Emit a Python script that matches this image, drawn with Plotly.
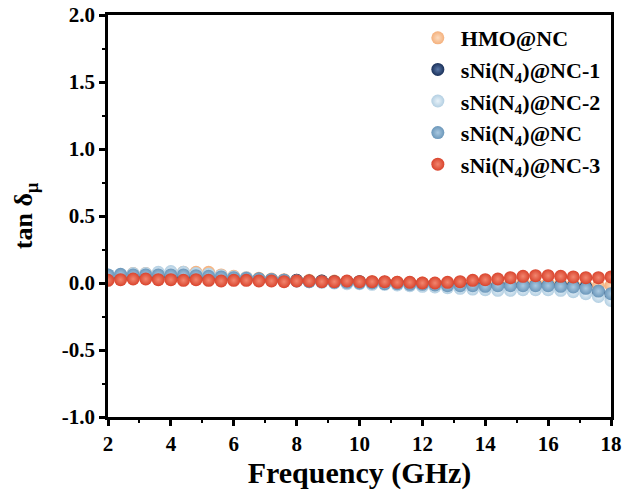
import plotly.graph_objects as go

# Frequency sweep (GHz)
freq = [2.0, 2.4, 2.8, 3.2, 3.6, 4.0, 4.4, 4.8, 5.2, 5.6,
        6.0, 6.4, 6.8, 7.2, 7.6, 8.0, 8.4, 8.8, 9.2, 9.6,
        10.0, 10.4, 10.8, 11.2, 11.6, 12.0, 12.4, 12.8, 13.2, 13.6,
        14.0, 14.4, 14.8, 15.2, 15.6, 16.0, 16.4, 16.8, 17.2, 17.6, 18.0]

# Magnetic loss tangent for each sample
hmo_nc = [0.05, 0.06, 0.07, 0.07, 0.07, 0.075, 0.08, 0.08, 0.08, 0.06,
          0.05, 0.04, 0.035, 0.03, 0.025, 0.02, 0.02, 0.015, 0.015, 0.01,
          0.01, 0.01, 0.005, 0.005, 0.0, 0.0, -0.005, -0.005, -0.01, -0.01,
          -0.01, -0.01, -0.005, 0.0, 0.0, 0.0, -0.005, -0.01, -0.015, -0.02, -0.02]
sni_nc_1 = [0.04, 0.05, 0.05, 0.05, 0.05, 0.05, 0.05, 0.045, 0.04, 0.04,
            0.035, 0.03, 0.03, 0.025, 0.02, 0.02, 0.015, 0.015, 0.01, 0.01,
            0.01, 0.005, 0.005, 0.0, 0.0, -0.005, -0.01, -0.01, -0.015, -0.015,
            -0.02, -0.02, -0.02, -0.02, -0.02, -0.02, -0.02, -0.025, -0.03, -0.07, -0.09]
sni_nc_2 = [0.06, 0.06, 0.07, 0.07, 0.08, 0.085, 0.08, 0.07, 0.065, 0.055,
            0.045, 0.04, 0.03, 0.025, 0.02, 0.015, 0.01, 0.005, 0.0, -0.005,
            -0.005, -0.01, -0.01, -0.015, -0.02, -0.025, -0.03, -0.035, -0.04, -0.045,
            -0.05, -0.055, -0.055, -0.05, -0.05, -0.05, -0.055, -0.065, -0.08, -0.1, -0.13]
sni_nc = [0.06, 0.065, 0.06, 0.06, 0.06, 0.06, 0.06, 0.055, 0.05, 0.045,
          0.04, 0.035, 0.03, 0.025, 0.02, 0.015, 0.01, 0.01, 0.005, 0.005,
          0.0, 0.0, -0.005, -0.005, -0.01, -0.01, -0.015, -0.02, -0.02, -0.02,
          -0.025, -0.02, -0.02, -0.02, -0.02, -0.02, -0.025, -0.03, -0.04, -0.06, -0.08]
sni_nc_3 = [0.02, 0.025, 0.03, 0.03, 0.025, 0.025, 0.02, 0.025, 0.02, 0.015,
            0.02, 0.02, 0.015, 0.015, 0.01, 0.015, 0.015, 0.01, 0.01, 0.015,
            0.01, 0.01, 0.01, 0.005, 0.005, 0.0, 0.0, 0.005, 0.01, 0.02,
            0.025, 0.03, 0.04, 0.05, 0.055, 0.055, 0.05, 0.045, 0.04, 0.04, 0.045]

names = ["HMO@NC", "sNi(N<sub>4</sub>)@NC-1", "sNi(N<sub>4</sub>)@NC-2",
         "sNi(N<sub>4</sub>)@NC", "sNi(N<sub>4</sub>)@NC-3"]
series = [hmo_nc, sni_nc_1, sni_nc_2, sni_nc, sni_nc_3]
colors = ["#F4B07C", "#1A3059", "#B3CFE2", "#6B97BA", "#D9442D"]
highlights = ["#FCDCC0", "#5A78A8", "#E8F2F9", "#A9C8E0", "#F2866F"]

# Axis tick labels
x_ticks = [2, 4, 6, 8, 10, 12, 14, 16, 18]
y_ticks = [-1.0, -0.5, 0.0, 0.5, 1.0, 1.5, 2.0]

FONT = "Liberation Serif"

fig = go.Figure()
for i, (name, vals, col, hl) in enumerate(zip(names, series, colors, highlights)):
    fig.add_trace(go.Scatter(
        x=freq, y=vals, name=f"<b>{name}</b>", mode="markers",
        legendgroup=f"g{i}",
        marker=dict(size=13, color=col, line=dict(width=0),
                    gradient=dict(type="radial", color=hl)),
    ))

axis_common = dict(
    showline=True, linewidth=2.5, linecolor="black", mirror=True,
    ticks="outside", ticklen=6, tickwidth=2.5, tickcolor="black",
    showgrid=False, zeroline=False, automargin=False,
    tickfont=dict(family=FONT, size=21, color="black"),
)

fig.update_layout(
    width=623, height=495,
    margin=dict(l=108, r=12, t=15, b=78, autoexpand=False),
    paper_bgcolor="white", plot_bgcolor="white",
    font=dict(family=FONT, color="black"),
    xaxis=dict(
        range=[2, 18],
        tickmode="array", tickvals=x_ticks,
        ticktext=[f"<b>{v}</b>" for v in x_ticks],
        minor=dict(dtick=1, tick0=2, ticklen=3, tickwidth=2, tickcolor="black", ticks="outside"),
        title=dict(text="<b>Frequency (GHz)</b>", font=dict(family=FONT, size=30), standoff=4),
        **axis_common,
    ),
    yaxis=dict(
        range=[-1.0, 2.0],
        tickmode="array", tickvals=y_ticks,
        ticktext=[f"<b>{v:.1f}</b>" for v in y_ticks],
        minor=dict(dtick=0.25, tick0=0, ticklen=3, tickwidth=2, tickcolor="black", ticks="outside"),
        title=dict(text="<b>tan δ<sub>μ</sub></b>", font=dict(family=FONT, size=26), standoff=22),
        **axis_common,
    ),
    legend=dict(
        x=0.61, y=0.995, xanchor="left", yanchor="top",
        bgcolor="rgba(0,0,0,0)", borderwidth=0,
        traceorder="grouped", tracegroupgap=0, itemwidth=36,
        font=dict(family=FONT, size=22, color="black"),
    ),
    showlegend=True,
)

fig.write_html("out.html")
